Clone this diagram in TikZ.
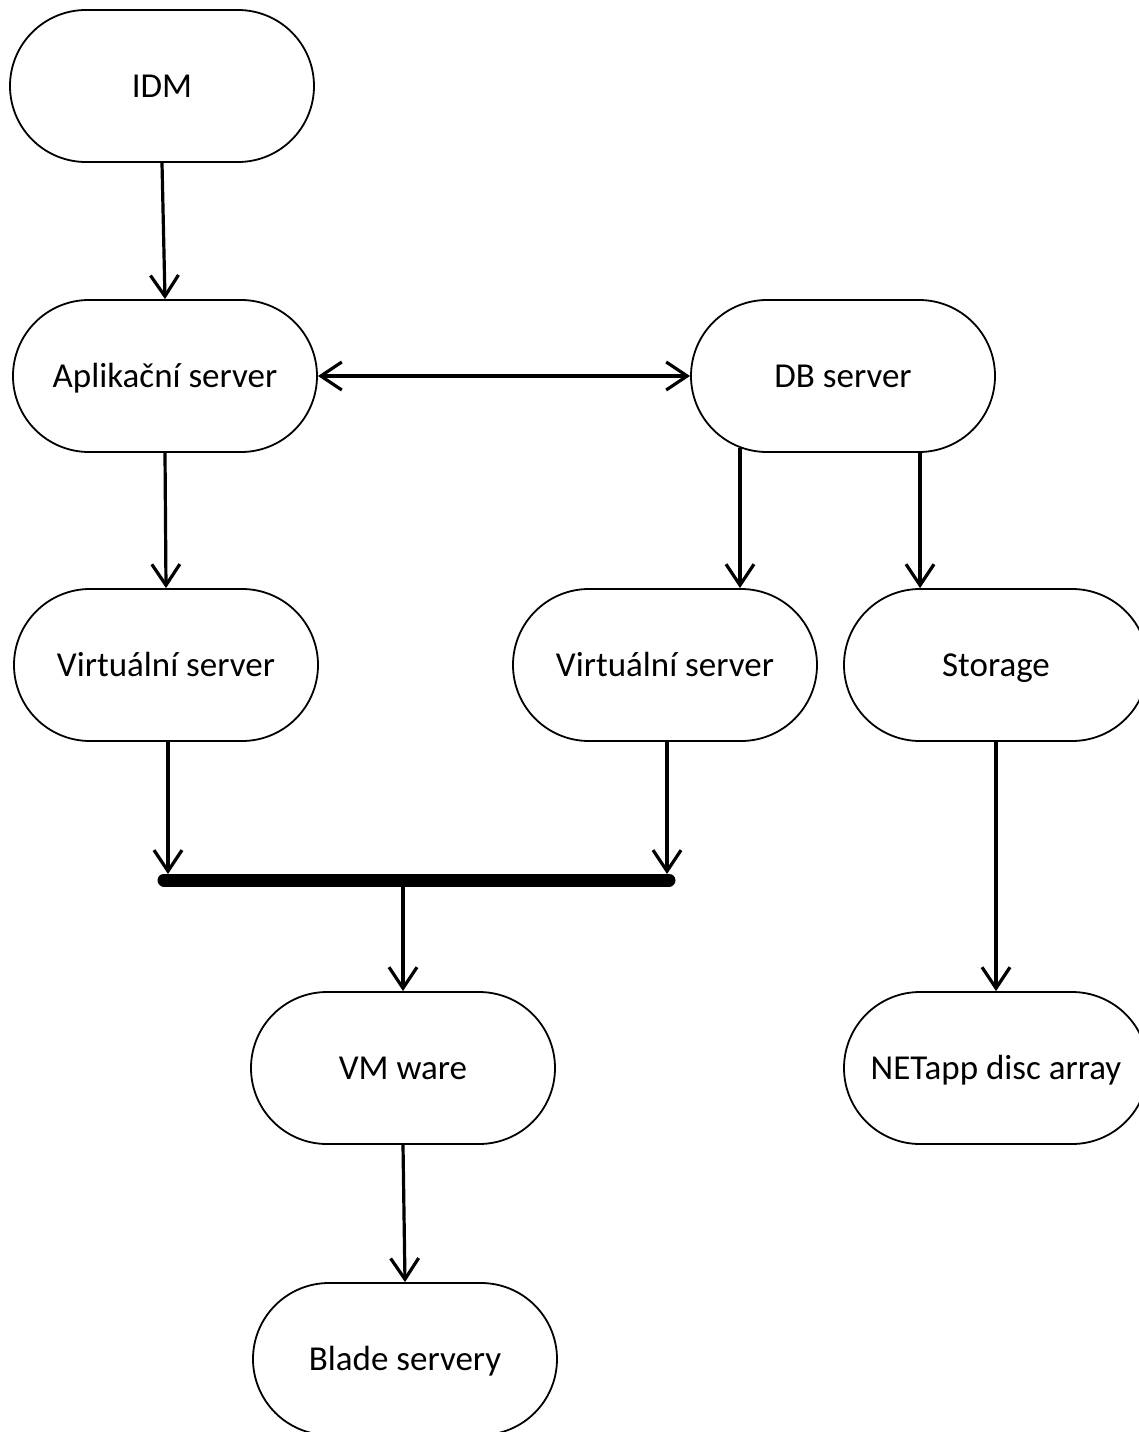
\documentclass[tikz,border=0pt]{standalone}
\usepackage{fontspec}
\setmainfont{Carlito}
\usetikzlibrary{arrows.meta,calc}
\begin{document}
\begin{tikzpicture}[x=1pt,y=-1pt,
  box/.style={draw, line width=1.8pt, rounded corners=76pt, minimum width=304pt, minimum height=152pt, inner sep=0pt, text height=30pt, text depth=8pt, font=\fontsize{35}{42}\selectfont},
  arr/.style={line width=3.2pt, -{Straight Barb[length=21pt,width=28pt]}},
  dbl/.style={line width=3.2pt, {Straight Barb[length=21pt,width=28pt]}-{Straight Barb[length=21pt,width=28pt]}},
  busbar/.style={line width=13pt, line cap=round}
]
\useasboundingbox (0,0) rectangle (1139,1432);
\node[box] (idm) at (162,86) {IDM};
\node[box] (app) at (165,376) {Aplikační server};
\node[box] (db) at (843,376) {DB server};
\node[box] (v1) at (166,665) {Virtuální server};
\node[box] (v2) at (665,665) {Virtuální server};
\node[box] (st) at (996,665) {Storage};
\node[box] (vm) at (403,1068) {VM ware};
\node[box] (net) at (996,1068) {NETapp disc array};
\node[box] (blade) at (405,1359) {Blade servery};

\coordinate (dbx) at (740,0);
\coordinate (stx) at (920,0);
\coordinate (barL) at (164,880);
\coordinate (barR) at (669,880);
\coordinate (barM) at (403,880);
\coordinate (v1x) at (168,0);
\coordinate (v2x) at (667,0);

\draw[arr] (idm.south) -- (app.north);
\draw[dbl] (app.east) -- (db.west);
\draw[arr] (app.south) -- (v1.north);
\draw[arr] ($(db.south -| dbx)+(0,-5)$) -- (v2.north -| dbx);
\draw[arr] (db.south -| stx) -- (st.north -| stx);
\draw[arr] (v1.south -| v1x) -- ($(barL -| v1x)+(0,-6)$);
\draw[arr] (v2.south -| v2x) -- ($(barR -| v2x)+(0,-6)$);
\draw[busbar] (barL) -- (barR);
\draw[arr] (barM) -- (vm.north);
\draw[arr] (st.south) -- (net.north);
\draw[arr] (vm.south) -- (blade.north);
\end{tikzpicture}
\end{document}
